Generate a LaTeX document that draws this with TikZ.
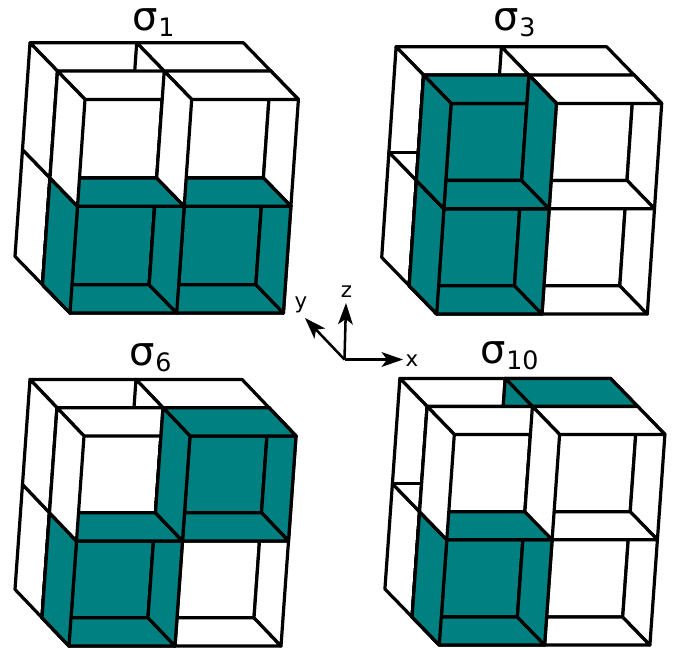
\documentclass[tikz,border=0pt]{standalone}
\usepackage{fontspec}
\setmainfont{DejaVu Sans}
\usetikzlibrary{arrows.meta}
\definecolor{cellteal}{RGB}{0,128,128}
\tikzset{
  wall/.style={draw=black,line width=2.4pt,line join=round,fill=white},
  tealwall/.style={wall,fill=cellteal},
  edgeline/.style={draw=black,line width=2.4pt,line cap=round},
  axisarrow/.style={line width=1.9pt,-{Stealth[length=16pt,width=11pt,inset=4pt]}},
  panel/.style={inner sep=0pt,anchor=base west,font=\fontsize{30}{30}\selectfont},
  axislabel/.style={inner sep=0pt,font=\fontsize{16}{16}\selectfont},
  gridframe/.style n args={7}{shift={(#1,#2)},x={(#3*.75pt,0pt)},y={(#4*.75pt,#5*.75pt)},z={(#6*.75pt,#7*.75pt)}}
}
\newcommand{\xwall}[4][wall]{\draw[#1] (#2,#3,#4) -- (#2,#3+1,#4) -- (#2,#3+1,#4+1) -- (#2,#3,#4+1) -- cycle;}
\newcommand{\zwall}[4][wall]{\draw[#1] (#2,#3,#4) -- (#2+1,#3,#4) -- (#2+1,#3+1,#4) -- (#2,#3+1,#4) -- cycle;}
\newcommand{\ywall}[3][wall]{\draw[#1] (#2,1,#3) -- (#2+1,1,#3) -- (#2+1,1,#3+1) -- (#2,1,#3+1) -- cycle;}
% #1 back layer extras, #2 teal cells of the front layer
\newcommand{\cellgrid}[2]{
  % back layer
  \foreach \i in {0,1} {\zwall{\i}{1}{2}}
  \foreach \k in {0,1} {\xwall{0}{1}{\k}}
  \xwall{1}{1}{1}
  #1
  % back walls of the front layer
  \foreach \i in {0,1} {\foreach \k in {0,1} {\ywall{\i}{\k}}}
  \foreach \i/\k in {#2} {\ywall[tealwall]{\i}{\k}}
  % bottom row
  \foreach \i in {0,1} {\zwall{\i}{0}{0}}
  \foreach \i in {2,1,0} {\xwall{\i}{0}{0}}
  \foreach \i/\k in {#2} {\ifnum\k=0
    \zwall[tealwall]{\i}{0}{0}
    \xwall[tealwall]{\i+1}{0}{0}
    \xwall[tealwall]{\i}{0}{0}
  \fi}
  % top row, right side
  \xwall{2}{0}{1}
  \foreach \i/\k in {#2} {\ifnum\k=1 \ifnum\i=1 \xwall[tealwall]{2}{0}{1}\fi\fi}
  % upper planes
  \foreach \i in {0,1} {\zwall{\i}{0}{1} \zwall{\i}{0}{2}}
  \foreach \i/\k in {#2} {\zwall[tealwall]{\i}{0}{\k+1}\ifnum\k=1 \zwall[tealwall]{\i}{0}{1}\fi}
  % top row, inner walls
  \foreach \i in {0,1} {\xwall{\i}{0}{1}}
  \foreach \i/\k in {#2} {\ifnum\k=1
    \xwall[tealwall]{\i}{0}{1}
    \ifnum\i=0 \xwall[tealwall]{1}{0}{1}\fi
  \fi}
}
\newcommand{\sigmalabel}[2]{σ\kern0.5pt\raisebox{-4.5pt}{\fontsize{#2}{#2}\selectfont #1}}
\begin{document}
\begin{tikzpicture}[x=0.75pt,y=-0.75pt]
\useasboundingbox (0,0) rectangle (680,647);
% sigma 1
\begin{scope}[gridframe={70}{313}{106.7}{-27.5}{28.3}{7.5}{106.8}]
  \cellgrid{}{0/0,1/0}
\end{scope}
% sigma 3
\begin{scope}[gridframe={436.7}{314}{105.3}{-27.5}{28.3}{7.2}{105.3}]
  \cellgrid{\draw[edgeline] (0,2,1) -- (1,2,1);}{0/0,0/1}
\end{scope}
% sigma 6
\begin{scope}[gridframe={69}{646}{106}{-27}{28.3}{7.5}{105}]
  \cellgrid{}{0/0,1/1}
\end{scope}
% sigma 10
\begin{scope}[gridframe={439.3}{645}{105.3}{-27.2}{28}{7.5}{105.3}]
  \cellgrid{\draw[edgeline] (0,2,1) -- (1,2,1);
    \zwall[tealwall]{1}{1}{2}
    \xwall[tealwall]{1}{1}{1}}{0/0}
\end{scope}
\node[panel] (title1) at (132,30) {\sigmalabel{1}{19}};
\node[panel] (title3) at (493,30) {\sigmalabel{3}{19}};
\node[panel] (title6) at (129,365) {\sigmalabel{6}{19}};
\node[panel] (title10) at (480,363) {\sigmalabel{10}{19}};
% axes
\coordinate (origin) at (344.5,359.5);
\node[axislabel] (xlabel) at (412,361) {x};
\node[axislabel] (zlabel) at (346.5,292) {z};
\node[axislabel] (ylabel) at (301,305) {y};
\coordinate (xtip) at (403,359.5);
\coordinate (ztip) at (346,303);
\coordinate (ytip) at (305,318);
\draw[axisarrow] (origin) -- (xtip);
\draw[axisarrow] (origin) -- (ztip);
\draw[axisarrow] (origin) -- (ytip);
\end{tikzpicture}
\end{document}
